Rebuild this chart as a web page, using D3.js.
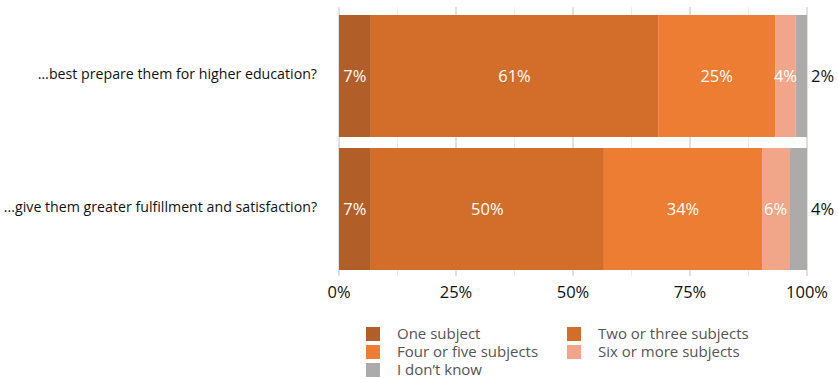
<!DOCTYPE html>
<html lang="en">
<head>
    <meta charset="UTF-8">
    <title>Subjects stacked bar</title>
    <script src="https://cdnjs.cloudflare.com/ajax/libs/d3/7.8.5/d3.min.js"></script>
    <style>
        body {
            margin: 0;
            background: #fff;
            font-family: "Open Sans", "Noto Sans", sans-serif;
        }
        svg { display: block; }
    </style>
</head>
<body>
    <svg width="838" height="379"></svg>
    <script>
// question rows
const questions = [
    "…best prepare them for higher education?",
    "...give them greater fulfillment and satisfaction?"
];
const categories = ["One subject", "Two or three subjects", "Four or five subjects", "Six or more subjects", "I don’t know"];
const colors = ["#b15e28", "#d36e2a", "#ec7d32", "#f1a689", "#adaaaa"];

// percent values per category, one per question
const oneSubject = [6.8, 6.8];
const twoOrThree = [61.4, 49.8];
const fourOrFive = [25.0, 33.8];
const sixOrMore = [4.4, 5.8];
const dontKnow = [2.4, 3.8];

const tickValues = [0, 25, 50, 75, 100];

const svg = d3.select("svg");

const rows = questions.map((q, i) => ({
    question: q,
    "One subject": oneSubject[i],
    "Two or three subjects": twoOrThree[i],
    "Four or five subjects": fourOrFive[i],
    "Six or more subjects": sixOrMore[i],
    "I don’t know": dontKnow[i]
}));

const x = d3.scaleLinear().domain([0, 100]).range([339, 807]);
const y = d3.scaleBand().domain(questions).range([15, 270]).paddingInner(0.083);
const color = d3.scaleOrdinal().domain(categories).range(colors);

// gridlines
svg.append("g")
    .selectAll("line")
    .data(d3.range(0, 101, 12.5))
    .join("line")
    .attr("x1", d => x(d)).attr("x2", d => x(d))
    .attr("y1", 7).attr("y2", 276)
    .attr("stroke", d => d % 25 === 0 ? "#d6d6d6" : "#ececec")
    .attr("stroke-width", d => d % 25 === 0 ? 1.5 : 1);

const series = d3.stack().keys(categories)(rows);

const groups = svg.append("g")
    .selectAll("g")
    .data(series)
    .join("g")
    .attr("fill", d => color(d.key));

groups.selectAll("rect")
    .data(d => d)
    .join("rect")
    .attr("x", d => x(d[0]))
    .attr("width", d => x(d[1]) - x(d[0]))
    .attr("y", d => y(d.data.question))
    .attr("height", y.bandwidth());

// value labels
series.forEach((s, si) => {
    const last = si === series.length - 1;
    svg.append("g")
        .selectAll("text")
        .data(s)
        .join("text")
        .attr("x", d => last ? x(100) + 4 : x((d[0] + d[1]) / 2))
        .attr("y", d => y(d.data.question) + y.bandwidth() / 2)
        .attr("dy", "0.35em")
        .attr("text-anchor", last ? "start" : "middle")
        .attr("fill", last ? "#111" : "#fff")
        .attr("font-size", 16.5)
        .text(d => Math.round(d[1] - d[0]) + "%");
});

// x axis labels
svg.append("g")
    .selectAll("text")
    .data(tickValues)
    .join("text")
    .attr("x", d => x(d))
    .attr("y", 298)
    .attr("text-anchor", "middle")
    .attr("font-size", 16.5)
    .attr("fill", "#111")
    .text(d => d + "%");

// question labels
svg.append("g")
    .selectAll("text")
    .data(questions)
    .join("text")
    .attr("x", 317)
    .attr("y", d => y(d) + y.bandwidth() / 2 - 2)
    .attr("dy", "0.35em")
    .attr("text-anchor", "end")
    .attr("font-size", 14.2)
    .attr("fill", "#111")
    .text(d => d);

// legend
const legendPos = [[366, 325], [567, 325], [366, 343], [567, 343], [366, 361]];
const legend = svg.append("g")
    .selectAll("g")
    .data(categories)
    .join("g")
    .attr("transform", (d, i) => `translate(${legendPos[i][0]},${legendPos[i][1]})`);

legend.append("rect")
    .attr("y", 2)
    .attr("width", 14).attr("height", 14)
    .attr("fill", d => color(d));

legend.append("text")
    .attr("x", 31)
    .attr("y", 9)
    .attr("dy", "0.35em")
    .attr("font-size", 15)
    .attr("fill", "#555")
    .text(d => d);
    </script>
</body>
</html>
